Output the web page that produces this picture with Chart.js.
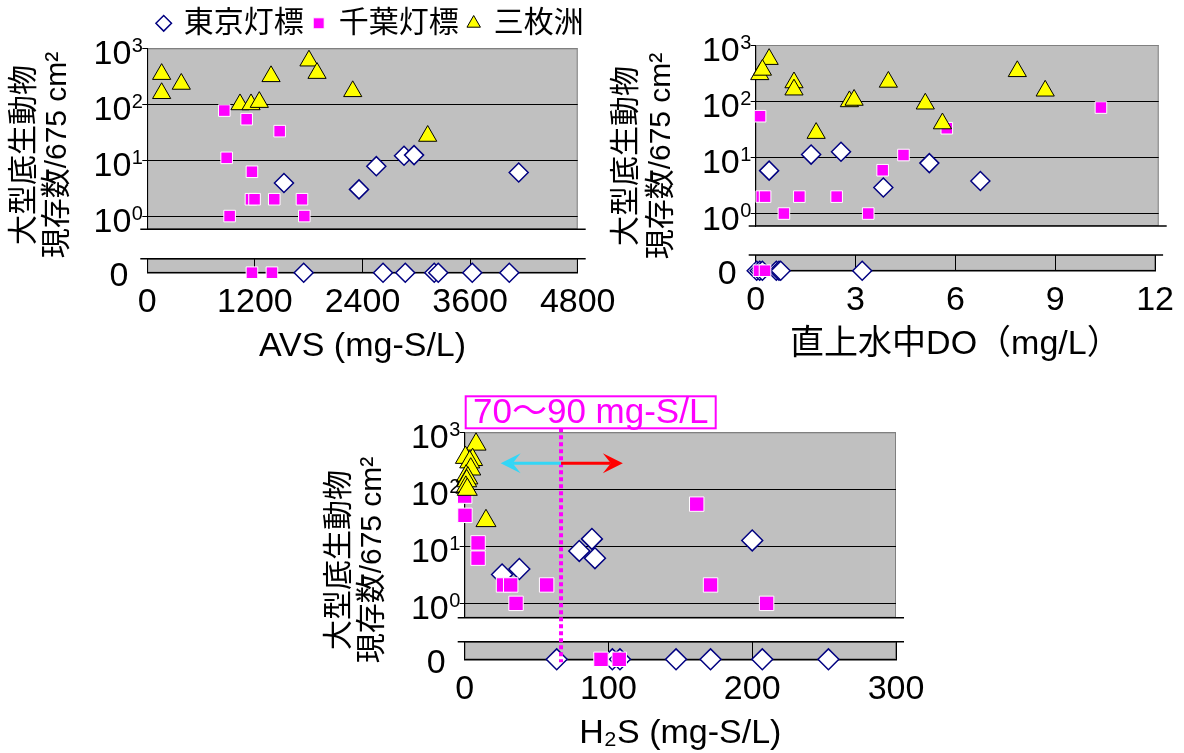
<!DOCTYPE html>
<html lang="ja">
<head>
<meta charset="utf-8">
<title>大型底生動物 現存数</title>
<script src="https://cdn.jsdelivr.net/npm/chart.js@4.4.1/dist/chart.umd.min.js"></script>
<style>
  html, body { margin: 0; background: #fff; }
  #fig { position: relative; width: 1184px; height: 753px; overflow: hidden; }
  #fig canvas { position: absolute; left: 0; top: 0; }
</style>
</head>
<body>
<div id="fig">
  <canvas id="avsZero" width="1184" height="753"></canvas>
  <canvas id="doZero" width="1184" height="753"></canvas>
  <canvas id="h2sZero" width="1184" height="753"></canvas>
  <canvas id="avsMain" width="1184" height="753"></canvas>
  <canvas id="doMain" width="1184" height="753"></canvas>
  <canvas id="h2sMain" width="1184" height="753"></canvas>
</div>
<script>
// 系列名
const seriesNames = ['東京灯標', '千葉灯標', '三枚洲'];
const yTitleLines = ['大型底生動物', '現存数/675 cm²'];
const decades = [1, 10, 100, 1000];

// AVS
const avsTokyoX = [1524, 2361, 2554, 2863, 2975, 4142];
const avsTokyoY = [3.9, 3.0, 7.8, 12.0, 12.3, 6.0];
const avsTokyoZeroX = [1744, 2629, 2877, 3200, 3245, 3624, 4037];
const avsChibaX = [859, 1108, 1476, 885, 1167, 1156, 1196, 1416, 1725, 918, 1751];
const avsChibaY = [77, 54, 33, 11, 6.2, 2, 2, 2, 2, 1, 1];
const avsChibaZeroX = [1167, 1390];
const avsSanmaiX = [160, 160, 379, 1034, 1157, 1249, 1380, 1803, 1893, 2291, 3127];
const avsSanmaiY = [345, 157, 230, 99, 99, 109, 315, 600, 360, 170, 27];

// 直上水中DO
const doTokyoX = [0.40, 1.65, 2.54, 3.80, 5.17, 6.69];
const doTokyoY = [5.8, 11.2, 12.6, 2.9, 7.9, 3.8];
const doTokyoZeroX = [0.03, 0.12, 0.2, 0.62, 0.7, 0.75, 3.2];
const doChibaX = [0.13, 0.18, 0.28, 1.30, 2.41, 0.84, 3.35, 3.78, 4.40, 5.69, 10.28];
const doChibaY = [54, 2, 2, 2, 2, 1, 1, 5.9, 11, 33, 77];
const doChibaZeroX = [0.1, 0.28];
const doSanmaiX = [0.40, 0.12, 0.2, 1.14, 1.14, 1.80, 2.79, 2.93, 3.95, 5.05, 5.56, 7.79, 8.62];
const doSanmaiY = [560, 300, 360, 215, 160, 27, 99, 105, 220, 90, 40, 340, 153];

// H2S
const h2sTokyoX = [26, 38, 79.7, 88.5, 90.6, 200];
const h2sTokyoY = [3.2, 4.0, 8.3, 13.5, 6.2, 12.7];
const h2sTokyoZeroX = [64, 102.7, 108, 147, 171, 207, 253];
const h2sChibaX = [0, 0.2, 9.3, 9.3, 27, 32, 35.7, 57, 161.4, 171, 210];
const h2sChibaY = [76, 35, 11.5, 6.2, 2.1, 2.1, 1, 2.1, 55, 2.1, 1];
const h2sChibaZeroX = [94.8, 107.5];
const h2sSanmaiX = [7.9, 0.5, 5.5, 3.5, 4.2, 1.0, 2.2, 1.4, 0.8, 1.8, 14.8];
const h2sSanmaiY = [615, 360, 330, 300, 225, 170, 157, 140, 108, 99, 28];

// H2S の閾値注記
const h2sThreshold = 67;
const h2sRangeLabel = '70～90 mg-S/L';
const h2sArrowY = 286;
const h2sArrowLeft = 25;
const h2sArrowRight = 110;

const W = 1184, H = 753;
const FONT = "'Liberation Sans', Arial, 'Noto Sans CJK JP', sans-serif";
const AXIS_W = 5;
const ZERO_AXIS_W = 60;
const X_AXIS_H = 94.4;
const LEGEND_H = 50;
const LEGEND_EXTRA = 16;

// パネル配置
const panels = [
  { key: 'avs', xMax: 4800, xStep: 1200, xTitle: 'AVS (mg-S/L)', yMin: 0.58,
    left: 147.3, right: 577.7, top: 48.3, bottom: 229.3, zeroTop: 258.7, zeroBottom: 272.7,
    titleX: [25, 58], titleY: 155, k: 1, sq: 8.2, legend: true,
    tx: avsTokyoX, ty: avsTokyoY, tz: avsTokyoZeroX, cx: avsChibaX, cy: avsChibaY, cz: avsChibaZeroX, sx: avsSanmaiX, sy: avsSanmaiY },
  { key: 'do', xMax: 12, xStep: 3, xTitle: '直上水中DO（mg/L）', yMin: 0.62,
    left: 755.7, right: 1158.7, top: 45, bottom: 226, zeroTop: 255, zeroBottom: 270.7,
    titleX: [627, 662], titleY: 156, k: 1, sq: 8.2, legend: false,
    tx: doTokyoX, ty: doTokyoY, tz: doTokyoZeroX, cx: doChibaX, cy: doChibaY, cz: doChibaZeroX, sx: doSanmaiX, sy: doSanmaiY },
  { key: 'h2s', xMax: 300, xStep: 100, xTitle: 'H₂S (mg-S/L)', yMin: 0.56,
    left: 464.7, right: 896, top: 432.3, bottom: 617.7, zeroTop: 641.7, zeroBottom: 659.3,
    titleX: [340, 373], titleY: 560, k: 1.1, sq: 10.2, legend: false,
    tx: h2sTokyoX, ty: h2sTokyoY, tz: h2sTokyoZeroX, cx: h2sChibaX, cy: h2sChibaY, cz: h2sChibaZeroX, sx: h2sSanmaiX, sy: h2sSanmaiY }
];

const pts = (xs, ys) => xs.map((x, i) => ({ x, y: ys ? ys[i] : 0 }));

function makeSets(p, zero) {
  return [
    { label: seriesNames[0], data: zero ? pts(p.tz) : pts(p.tx, p.ty), order: 3, clip: false,
      pointStyle: 'rectRot', pointRadius: 9.5 * p.k, pointBackgroundColor: '#fff', pointBorderColor: '#000080',
      pointBorderWidth: 1.5, backgroundColor: '#fff', borderColor: '#000080' },
    { label: seriesNames[1], data: zero ? pts(p.cz) : pts(p.cx, p.cy), order: 2, clip: false,
      pointStyle: 'rect', pointRadius: p.sq, pointBackgroundColor: '#ff00ff', pointBorderColor: '#fff',
      pointBorderWidth: 1, backgroundColor: '#ff00ff', borderColor: '#fff' },
    { label: seriesNames[2], data: zero ? [] : pts(p.sx, p.sy), order: 1, clip: false,
      pointStyle: 'triangle', pointRadius: 10.5 * p.k, pointBackgroundColor: '#ffff00', pointBorderColor: '#000',
      pointBorderWidth: 1, backgroundColor: '#ffff00', borderColor: '#000' }
  ];
}

// 灰色のプロット領域
const plotFrame = {
  id: 'plotFrame',
  beforeDraw(chart) {
    const a = chart.chartArea, ctx = chart.ctx;
    ctx.save();
    ctx.fillStyle = '#c0c0c0';
    ctx.fillRect(a.left, a.top, a.right - a.left, a.bottom - a.top);
    ctx.strokeStyle = '#808080';
    ctx.lineWidth = 1;
    ctx.strokeRect(a.left + 0.5, a.top + 0.5, a.right - a.left - 1, a.bottom - a.top - 1);
    ctx.restore();
  }
};

// 軸の切れ目の線
const breakLine = {
  id: 'breakLine',
  beforeDatasetsDraw(chart, args, opts) {
    const a = chart.chartArea, ctx = chart.ctx;
    const y = opts.edge === 'top' ? a.top : a.bottom;
    ctx.save();
    ctx.strokeStyle = '#000';
    ctx.lineWidth = 1.5;
    ctx.beginPath();
    ctx.moveTo(a.left - 7, y);
    ctx.lineTo(a.right + 8, y);
    ctx.stroke();
    ctx.restore();
  }
};

// 10^n の目盛ラベルと縦軸タイトル
const logLabels = {
  id: 'logLabels',
  afterDraw(chart, args, opts) {
    const ys = chart.scales.y, ctx = chart.ctx, left = chart.chartArea.left;
    ctx.save();
    ctx.fillStyle = '#000';
    ctx.textBaseline = 'alphabetic';
    decades.forEach(v => {
      const py = ys.getPixelForValue(v);
      ctx.font = '34px ' + FONT;
      ctx.textAlign = 'right';
      ctx.fillText('10', left - 16, py + 16);
      ctx.font = '20px ' + FONT;
      ctx.textAlign = 'left';
      ctx.fillText(String(Math.round(Math.log10(v))), left - 15.5, py + 3.5);
    });
    ctx.font = '30px ' + FONT;
    ctx.textAlign = 'center';
    ctx.textBaseline = 'middle';
    yTitleLines.forEach((line, i) => {
      ctx.save();
      ctx.translate(opts.titleX[i], opts.titleY);
      ctx.rotate(-Math.PI / 2);
      ctx.fillText(line, 0, 0);
      ctx.restore();
    });
    ctx.restore();
  }
};

function arrow(ctx, x0, x1, y, color) {
  const dir = Math.sign(x1 - x0), len = 20, hw = 10;
  ctx.strokeStyle = color;
  ctx.fillStyle = color;
  ctx.lineWidth = 3;
  ctx.beginPath();
  ctx.moveTo(x0, y);
  ctx.lineTo(x1 - dir * len * 0.6, y);
  ctx.stroke();
  ctx.beginPath();
  ctx.moveTo(x1, y);
  ctx.lineTo(x1 - dir * len, y - hw);
  ctx.lineTo(x1 - dir * len * 0.6, y);
  ctx.lineTo(x1 - dir * len, y + hw);
  ctx.closePath();
  ctx.fill();
}

// H2S パネルの注記
const h2sNote = {
  id: 'h2sNote',
  afterDraw(chart, args, opts) {
    const ctx = chart.ctx, a = chart.chartArea;
    const xs = chart.scales.x, ys = chart.scales.y;
    const px = xs.getPixelForValue(h2sThreshold);
    const boxTop = a.top - 36, boxBottom = a.top - 4;
    ctx.save();
    ctx.strokeStyle = '#ff00ff';
    ctx.lineWidth = 4;
    ctx.setLineDash([4, 3]);
    ctx.beginPath();
    ctx.moveTo(px, boxBottom);
    ctx.lineTo(px, opts.lineEnd);
    ctx.stroke();
    ctx.setLineDash([]);

    const ay = ys.getPixelForValue(h2sArrowY);
    arrow(ctx, px, xs.getPixelForValue(h2sArrowLeft), ay, '#33d6f6');
    arrow(ctx, px, xs.getPixelForValue(h2sArrowRight), ay, '#ff0000');

    ctx.fillStyle = '#fff';
    ctx.fillRect(a.left + 1, boxTop, 250, boxBottom - boxTop);
    ctx.strokeStyle = '#ff00ff';
    ctx.lineWidth = 2;
    ctx.strokeRect(a.left + 1, boxTop, 250, boxBottom - boxTop);
    ctx.fillStyle = '#ff00ff';
    ctx.font = '35px ' + FONT;
    ctx.textAlign = 'center';
    ctx.textBaseline = 'middle';
    ctx.fillText(h2sRangeLabel, a.left + 126, (boxTop + boxBottom) / 2 + 1);
    ctx.restore();
  }
};

function mainChart(p) {
  const plugins = [plotFrame, breakLine, logLabels];
  if (p.key === 'h2s') plugins.push(h2sNote);
  const extra = p.legend ? LEGEND_EXTRA : 0;
  const scales = {
    x: { type: 'linear', display: false, min: 0, max: p.xMax },
    y: {
      type: 'logarithmic',
      min: p.yMin,
      max: 1000,
      afterBuildTicks: s => { s.ticks = decades.map(v => ({ value: v })); },
      afterFit: s => { s.width = AXIS_W; },
      ticks: { display: false },
      grid: {
        color: c => (c.tick && c.tick.value === 1000 ? '#808080' : '#000'),
        tickColor: '#000',
        tickLength: AXIS_W,
        lineWidth: 1
      },
      border: { color: '#000', width: 1 }
    }
  };
  if (p.legend) {
    // 凡例を描画領域より少し右まで広げるための空の軸
    scales.pad = {
      type: 'linear', position: 'right', display: true,
      ticks: { display: false },
      grid: { display: false, drawTicks: false },
      border: { display: false },
      afterFit: s => { s.width = extra; }
    };
  }
  return new Chart(document.getElementById(p.key + 'Main'), {
    type: 'scatter',
    data: { datasets: makeSets(p, false) },
    options: {
      responsive: false,
      animation: false,
      events: [],
      layout: { padding: { left: p.left - AXIS_W, right: W - p.right - extra, top: p.top - (p.legend ? LEGEND_H : 0), bottom: H - p.bottom } },
      plugins: {
        tooltip: { enabled: false },
        legend: {
          display: p.legend,
          position: 'top',
          align: 'end',
          labels: {
            usePointStyle: true,
            boxWidth: 10,
            boxHeight: 11,
            padding: 10,
            color: '#000',
            font: { size: 30, family: FONT },
            sort: (a, b) => a.datasetIndex - b.datasetIndex
          }
        },
        breakLine: { edge: 'bottom' },
        logLabels: { titleX: p.titleX, titleY: p.titleY },
        h2sNote: { lineEnd: p.zeroBottom + 3 }
      },
      scales
    },
    plugins
  });
}

function zeroChart(p) {
  return new Chart(document.getElementById(p.key + 'Zero'), {
    type: 'scatter',
    data: { datasets: makeSets(p, true) },
    options: {
      responsive: false,
      animation: false,
      events: [],
      layout: { padding: { left: p.left - ZERO_AXIS_W, right: W - p.right, top: p.zeroTop, bottom: H - p.zeroBottom - X_AXIS_H } },
      plugins: {
        tooltip: { enabled: false },
        legend: { display: false },
        breakLine: { edge: 'top' }
      },
      scales: {
        x: {
          type: 'linear',
          min: 0,
          max: p.xMax,
          afterFit: s => { s.height = X_AXIS_H; },
          ticks: { stepSize: p.xStep, autoSkip: false, maxRotation: 0, padding: 10, color: '#000',
                   font: { size: 34, family: FONT }, callback: v => String(v) },
          grid: { color: '#000', drawTicks: false, drawOnChartArea: true, lineWidth: 1 },
          border: { color: '#000', width: 1.5 },
          title: { display: true, text: p.xTitle, color: '#000', padding: 0, font: { size: 34, family: FONT } }
        },
        y: {
          type: 'linear',
          min: 0,
          max: 1,
          afterBuildTicks: s => { s.ticks = [{ value: 0 }]; },
          afterFit: s => { s.width = ZERO_AXIS_W; },
          ticks: { padding: 19, labelOffset: 4, color: '#000', font: { size: 34, family: FONT }, callback: v => String(v) },
          grid: { display: false, drawTicks: false },
          border: { color: '#000', width: 1 }
        }
      }
    },
    plugins: [plotFrame, breakLine]
  });
}

panels.forEach(zeroChart);
panels.forEach(mainChart);
</script>
</body>
</html>
